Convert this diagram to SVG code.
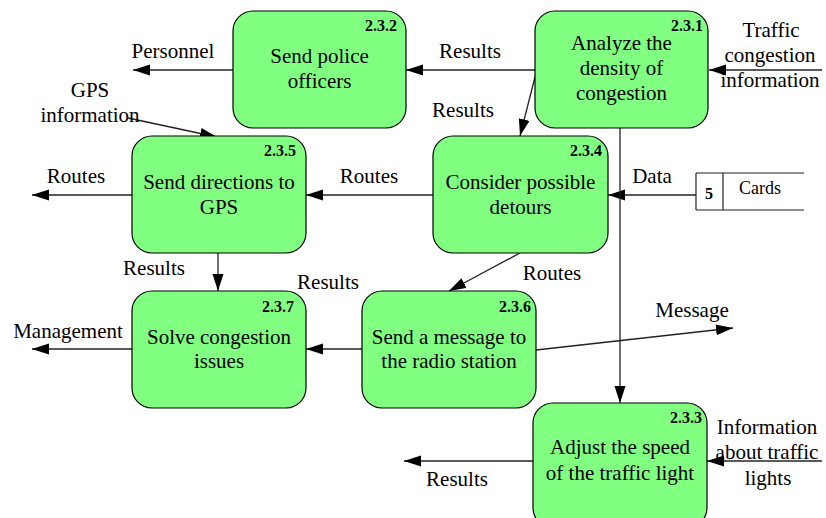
<svg xmlns="http://www.w3.org/2000/svg" width="826" height="518" viewBox="0 0 826 518">
<style>
.node rect{fill:#80ff80;stroke:#000;stroke-width:1.2}
.ptxt{font-size:21px;text-anchor:middle;fill:#000}
.pnum{font-size:16px;font-weight:bold;text-anchor:end;fill:#000}
.flow{font-size:21px;text-anchor:middle;fill:#000}
.conn path{fill:none;stroke:#222;stroke-width:1.3;marker-end:url(#ah)}
.store path{fill:none;stroke:#222;stroke-width:1.2}
</style>
<defs>
<marker id="ah" markerUnits="userSpaceOnUse" markerWidth="17" markerHeight="12" refX="17" refY="5.5" orient="auto">
<path d="M0,0 L17,5.5 L0,11 z" fill="#000"/>
</marker>
</defs>
<g id="connectors" class="conn">
<path d="M233,70 L133,70"/>
<path d="M535,70 L406,70"/>
<path d="M822,70 L709,70"/>
<path d="M536,73 L520,136"/>
<path d="M128,118 L217,137"/>
<path d="M132,195 L32,195"/>
<path d="M433,195 L306,195"/>
<path d="M696,195 L608,195"/>
<path d="M620,128 L620,403"/>
<path d="M218,253 L218,291"/>
<path d="M520,253 L449,291"/>
<path d="M362,349 L306,349"/>
<path d="M536,350 L733,328"/>
<path d="M132,349 L32,349"/>
<path d="M533,461 L404,461"/>
<path d="M822,461 L707,461"/>
</g>
<g id="labels">
<text class="flow" style="font-family:'Liberation Serif',serif" x="173" y="58">Personnel</text>
<text class="flow" style="font-family:'Liberation Serif',serif" x="470" y="58">Results</text>
<text class="flow" style="font-family:'Liberation Serif',serif" x="463" y="117">Results</text>
<text class="flow" style="font-family:'Liberation Serif',serif" x="771" y="37">Traffic</text>
<text class="flow" style="font-family:'Liberation Serif',serif" x="770" y="62">congestion</text>
<text class="flow" style="font-family:'Liberation Serif',serif" x="770" y="87">information</text>
<text class="flow" style="font-family:'Liberation Serif',serif" x="90" y="97">GPS</text>
<text class="flow" style="font-family:'Liberation Serif',serif" x="90" y="122">information</text>
<text class="flow" style="font-family:'Liberation Serif',serif" x="76" y="183">Routes</text>
<text class="flow" style="font-family:'Liberation Serif',serif" x="369" y="183">Routes</text>
<text class="flow" style="font-family:'Liberation Serif',serif" x="652" y="183">Data</text>
<text class="flow" style="font-family:'Liberation Serif',serif" x="154" y="275">Results</text>
<text class="flow" style="font-family:'Liberation Serif',serif" x="328" y="289">Results</text>
<text class="flow" style="font-family:'Liberation Serif',serif" x="552" y="280">Routes</text>
<text class="flow" style="font-family:'Liberation Serif',serif" x="692" y="317">Message</text>
<text class="flow" style="font-family:'Liberation Serif',serif" x="68" y="338">Management</text>
<text class="flow" style="font-family:'Liberation Serif',serif" x="457" y="486">Results</text>
<text class="flow" style="font-family:'Liberation Serif',serif" x="767" y="434">Information</text>
<text class="flow" style="font-family:'Liberation Serif',serif" x="767" y="459">about traffic</text>
<text class="flow" style="font-family:'Liberation Serif',serif" x="768" y="485">lights</text>
</g>
<g id="store5" class="store">
<path d="M696,173 H804 M696,210 H804 M696,173 V210 M723,173 V210"/>
<text style="font-family:'Liberation Serif',serif" x="709" y="199" font-size="16" font-weight="bold" text-anchor="middle">5</text>
<text style="font-family:'Liberation Serif',serif" x="760" y="194" font-size="18" text-anchor="middle">Cards</text>
</g>
<g id="n232" class="node">
<rect x="233" y="11" width="173" height="117" rx="20"/>
<text class="pnum" style="font-family:'Liberation Serif',serif" x="397" y="31">2.3.2</text>
<text class="ptxt" style="font-family:'Liberation Serif',serif" x="319.5" y="63">Send police</text>
<text class="ptxt" style="font-family:'Liberation Serif',serif" x="319.5" y="88">officers</text>
</g>
<g id="n231" class="node">
<rect x="535" y="11" width="173" height="117" rx="20"/>
<text class="pnum" style="font-family:'Liberation Serif',serif" x="703" y="31">2.3.1</text>
<text class="ptxt" style="font-family:'Liberation Serif',serif" x="621.5" y="50">Analyze the</text>
<text class="ptxt" style="font-family:'Liberation Serif',serif" x="621.5" y="75">density of</text>
<text class="ptxt" style="font-family:'Liberation Serif',serif" x="621.5" y="100">congestion</text>
</g>
<g id="n235" class="node">
<rect x="132" y="136" width="174" height="117" rx="20"/>
<text class="pnum" style="font-family:'Liberation Serif',serif" x="296" y="156">2.3.5</text>
<text class="ptxt" style="font-family:'Liberation Serif',serif" x="219" y="189">Send directions to</text>
<text class="ptxt" style="font-family:'Liberation Serif',serif" x="219" y="214">GPS</text>
</g>
<g id="n234" class="node">
<rect x="433" y="136" width="175" height="117" rx="20"/>
<text class="pnum" style="font-family:'Liberation Serif',serif" x="602" y="156">2.3.4</text>
<text class="ptxt" style="font-family:'Liberation Serif',serif" x="520.5" y="189">Consider possible</text>
<text class="ptxt" style="font-family:'Liberation Serif',serif" x="520.5" y="214">detours</text>
</g>
<g id="n237" class="node">
<rect x="132" y="291" width="174" height="117" rx="20"/>
<text class="pnum" style="font-family:'Liberation Serif',serif" x="294" y="312">2.3.7</text>
<text class="ptxt" style="font-family:'Liberation Serif',serif" x="219" y="344">Solve congestion</text>
<text class="ptxt" style="font-family:'Liberation Serif',serif" x="219" y="368">issues</text>
</g>
<g id="n236" class="node">
<rect x="362" y="291" width="174" height="117" rx="20"/>
<text class="pnum" style="font-family:'Liberation Serif',serif" x="531" y="312">2.3.6</text>
<text class="ptxt" style="font-family:'Liberation Serif',serif" x="449" y="344">Send a message to</text>
<text class="ptxt" style="font-family:'Liberation Serif',serif" x="449" y="368">the radio station</text>
</g>
<g id="n233" class="node">
<rect x="533" y="403" width="174" height="125" rx="20"/>
<text class="pnum" style="font-family:'Liberation Serif',serif" x="702" y="423">2.3.3</text>
<text class="ptxt" style="font-family:'Liberation Serif',serif" x="620" y="454">Adjust the speed</text>
<text class="ptxt" style="font-family:'Liberation Serif',serif" x="620" y="480">of the traffic light</text>
</g>
</svg>
